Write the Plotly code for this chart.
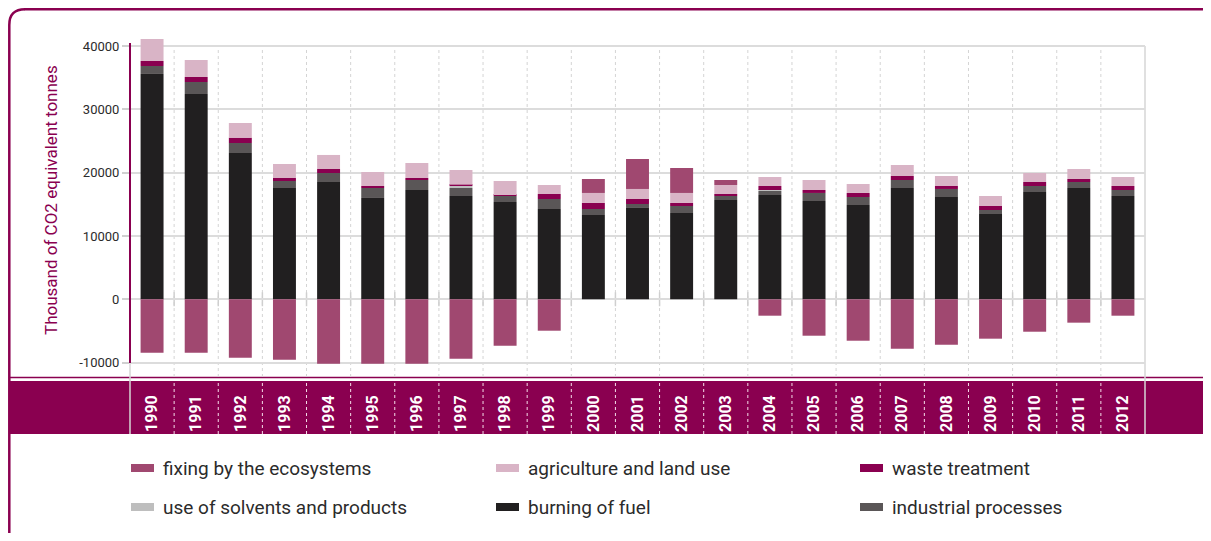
import plotly.graph_objects as go

years = [str(y) for y in range(1990, 2013)]

burning_of_fuel = [35580, 32420, 23100, 17570, 18520, 16000, 17260, 16310, 15360, 14260, 13310, 14420,
                   13630, 15680, 16470, 15520, 14890, 17570, 16150, 13470, 16940, 17570, 16310]
industrial_processes = [1260, 1890, 1580, 1110, 1420, 1570, 1580, 1260, 950, 1580, 950, 630,
                        1100, 630, 630, 1270, 1260, 1270, 1270, 630, 950, 950, 950]
use_of_solvents = [0, 0, 0, 0, 0, 0, 0, 320, 0, 0, 0, 0,
                   0, 0, 160, 0, 0, 0, 0, 0, 0, 0, 0]
waste_treatment = [790, 790, 840, 470, 630, 320, 310, 210, 160, 790, 950, 790,
                   480, 320, 630, 470, 640, 630, 470, 630, 630, 480, 630]
agriculture_land_use = [3470, 2690, 2320, 2210, 2220, 2210, 2370, 2320, 2210, 1420, 1580, 1580,
                        1580, 1420, 1420, 1580, 1420, 1740, 1580, 1580, 1420, 1570, 1420]
fixing_ecosystems = [-8430, -8430, -9220, -9540, -10170, -10170, -10170, -9380, -7330, -4960, 2210, 4730,
                     3940, 790, -2590, -5750, -6540, -7800, -7170, -6220, -5120, -3690, -2590]

y_tickvals = [-10000, 0, 10000, 20000, 30000, 40000]
y_ticktext = ["-10000", "0", "10000", "20000", "30000", "40000"]

MAGENTA = "#8A0050"
C_FIX = "#A04870"
C_AGRI = "#D9B4C6"
C_WASTE = "#8A0050"
C_SOLV = "#BEBEBE"
C_BURN = "#211F20"
C_IND = "#5A5657"
FONT = "Roboto, Liberation Sans, sans-serif"

series = [
    ("burning of fuel", burning_of_fuel, C_BURN),
    ("industrial processes", industrial_processes, C_IND),
    ("use of solvents and products", use_of_solvents, C_SOLV),
    ("waste treatment", waste_treatment, C_WASTE),
    ("agriculture and land use", agriculture_land_use, C_AGRI),
    ("fixing by the ecosystems", fixing_ecosystems, C_FIX),
]
legend_order = [
    ("fixing by the ecosystems", C_FIX), ("agriculture and land use", C_AGRI), ("waste treatment", C_WASTE),
    ("use of solvents and products", C_SOLV), ("burning of fuel", C_BURN), ("industrial processes", C_IND),
]

# page is shown with an 8px body margin: figure (0,0) sits at page (8,8)
OFF = 8
W, H = 1211 - OFF, 541 - 2 * OFF
ML, MR, MT, MB = 130 - OFF, 66, 34 - OFF, 155
PW = W - ML - MR
PH = H - MT - MB


def px(x):
    return (x - OFF - ML) / PW


def py(y):
    return (H - MB - (y - OFF)) / PH


fig = go.Figure()
for name, vals, col in series:
    fig.add_trace(go.Bar(x=years, y=vals, name=name, marker=dict(color=col, line=dict(width=0)),
                         showlegend=False))

shapes = []
# outer rounded border (cut at the right)
shapes.append(dict(type="path", xref="paper", yref="paper",
                   path=f"M {px(9.3)} {py(545)} L {px(9.3)} {py(25)} Q {px(9.3)} {py(9.3)} {px(25)} {py(9.3)}",
                   line=dict(color=MAGENTA, width=2.5), layer="below"))
shapes.append(dict(type="line", xref="paper", yref="paper", x0=px(24.5), x1=px(1225), y0=py(9.3), y1=py(9.3),
                   line=dict(color=MAGENTA, width=2.5), layer="below"))
# category band
shapes.append(dict(type="line", xref="paper", yref="paper", x0=px(10), x1=px(1225), y0=py(377.5), y1=py(377.5),
                   line=dict(color=MAGENTA, width=1.5), layer="below"))
shapes.append(dict(type="rect", xref="paper", yref="paper", x0=px(10), x1=px(1225), y0=py(434), y1=py(381),
                   fillcolor=MAGENTA, line=dict(width=0), layer="below"))
n = len(years)
for i in range(n - 1):
    xb = i + 0.5
    shapes.append(dict(type="line", xref="x", yref="paper", x0=xb, x1=xb, y0=py(377), y1=py(46),
                       line=dict(color="#D4D4D4", width=1, dash="dot"), layer="below"))
    shapes.append(dict(type="line", xref="x", yref="paper", x0=xb, x1=xb, y0=py(434), y1=py(381),
                       line=dict(color="#F5DDE9", width=1, dash="dot"), layer="below"))
    shapes.append(dict(type="line", xref="x", yref="y", x0=xb, x1=xb, y0=1100, y1=-1100,
                       line=dict(color="#CFCFCF", width=1.5), layer="below"))
# frame lines
shapes.append(dict(type="line", xref="paper", yref="paper", x0=1, x1=1, y0=py(434), y1=py(46),
                   line=dict(color="#D6D6D6", width=1.5), layer="below"))
shapes.append(dict(type="line", xref="paper", yref="paper", x0=0, x1=0, y0=py(434), y1=py(363),
                   line=dict(color="#D6D6D6", width=1.5), layer="below"))
shapes.append(dict(type="line", xref="paper", yref="paper", x0=0, x1=0, y0=py(363), y1=py(43),
                   line=dict(color=MAGENTA, width=2), layer="above"))

annotations = []
# legend (3 columns x 2 rows)
col_x = [131, 496, 860]
row_y = [468, 507]
for k, (name, col) in enumerate(legend_order):
    r, c = divmod(k, 3)
    x0 = col_x[c]
    yc = row_y[r]
    shapes.append(dict(type="rect", xref="paper", yref="paper", x0=px(x0), x1=px(x0 + 23),
                       y0=py(yc + 4), y1=py(yc - 4), fillcolor=col, line=dict(width=0)))
    annotations.append(dict(xref="paper", yref="paper", x=px(x0 + 30), y=py(yc), xanchor="left",
                            yanchor="middle", text=name, showarrow=False,
                            font=dict(family=FONT, size=19, color="#2B2B2B")))
# y-axis title
annotations.append(dict(xref="paper", yref="paper", x=px(51), y=py(200), xanchor="center", yanchor="middle",
                        text="Thousand of CO2 equivalent tonnes", textangle=-90, showarrow=False,
                        font=dict(family=FONT, size=17, color=MAGENTA)))

fig.update_layout(
    width=W, height=H, autosize=False,
    margin=dict(l=ML, r=MR, t=MT, b=MB, pad=0),
    paper_bgcolor="white", plot_bgcolor="rgba(0,0,0,0)",
    barmode="relative", bargap=0.48,
    showlegend=False,
    shapes=shapes, annotations=annotations,
    font=dict(family=FONT),
)
fig.update_xaxes(type="category", range=[-0.5, n - 0.5], showgrid=False, zeroline=False, showline=False,
                 automargin=False, ticks="", tickangle=-90, ticklabelstandoff=13,
                 tickfont=dict(family=FONT, size=16, color="white", weight="bold"))
fig.update_yaxes(range=[-12427, 41890], tickvals=y_tickvals, ticktext=y_ticktext, automargin=False,
                 showgrid=True, gridcolor="#DCDCDC", gridwidth=1.5, zeroline=False, showline=False,
                 ticks="outside", ticklen=7, tickcolor="#D0D0D0", tickwidth=1.5,
                 tickfont=dict(family=FONT, size=13, color="#2B2B2B"))

fig.write_html("out.html")
